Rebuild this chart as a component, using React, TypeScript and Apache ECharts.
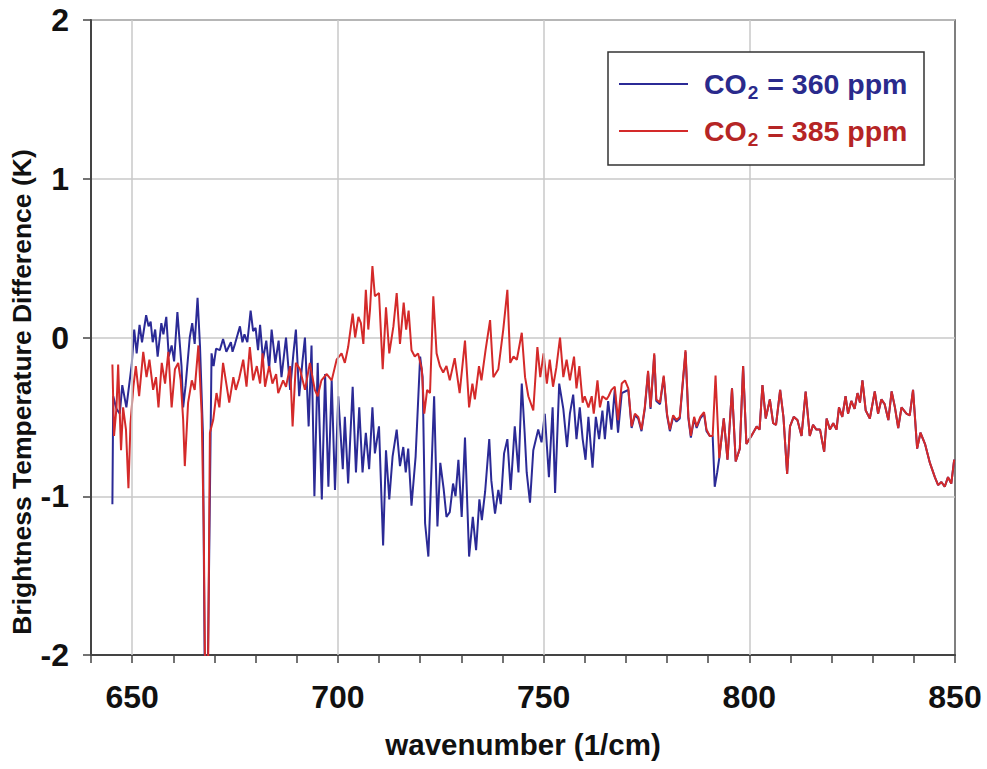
import React, { useEffect, useRef } from "react";
import * as echarts from "echarts";

const xTicksMajor = [650, 700, 750, 800, 850];
const yTicks = [-2, -1, 0, 1, 2];

const wn360 = [645.2, 645.4, 646.2, 647.0, 647.6, 648.6, 649.9, 650.5, 651.1, 651.8, 652.4, 653.4, 654.0, 654.5, 655.0, 655.6, 656.2, 657.1, 657.6, 658.3, 658.9, 659.6, 660.2, 661.0, 662.0, 662.4, 663.0, 664.0, 664.6, 665.2, 665.9, 666.5, 667.2, 667.7, 668.3, 668.9, 669.3, 669.8, 670.4, 671.3, 672.1, 672.9, 674.0, 674.4, 675.0, 676.2, 676.8, 677.3, 678.0, 678.8, 679.4, 680.0, 680.6, 681.1, 681.8, 682.6, 683.3, 683.9, 684.8, 685.6, 686.3, 687.4, 688.4, 689.2, 689.8, 690.6, 691.4, 692.0, 692.9, 693.6, 694.3, 695.1, 696.1, 696.9, 697.7, 698.5, 699.3, 700.1, 701.2, 701.7, 702.5, 703.6, 704.4, 705.2, 706.0, 706.8, 707.6, 708.4, 709.0, 710.0, 711.0, 711.7, 712.5, 713.3, 714.3, 715.1, 715.9, 716.5, 717.1, 717.9, 718.9, 720.0, 720.6, 721.2, 722.0, 722.8, 723.4, 724.2, 724.9, 725.7, 726.4, 727.2, 728.0, 728.6, 729.3, 730.1, 730.9, 731.9, 732.8, 733.6, 734.4, 735.0, 735.8, 736.8, 737.3, 738.2, 739.0, 739.6, 740.4, 741.2, 742.0, 743.0, 743.9, 744.7, 745.4, 745.9, 746.7, 747.5, 748.7, 749.5, 750.3, 751.3, 752.2, 752.8, 753.8, 754.8, 755.7, 756.4, 757.2, 758.0, 758.8, 759.5, 760.2, 760.9, 761.9, 762.7, 763.5, 764.3, 764.9, 765.7, 766.5, 767.3, 768.1, 769.0,
  769.8, 770.6, 771.4, 772.2, 773.0, 773.8, 774.6, 775.4, 776.0, 776.9, 777.4, 778.3, 779.2, 780.0, 780.7, 781.5, 782.3, 783.1, 784.5, 785.2, 785.8, 786.6, 787.2, 788.1, 789.0, 789.6, 790.4, 791.1, 791.6, 792.2, 792.7, 793.8, 794.7, 795.8, 796.7, 797.7, 798.5, 799.3, 800.5, 801.8, 802.5, 803.2, 804.0, 805.0, 805.8, 806.5, 807.5, 808.3, 809.2, 809.9, 810.8, 811.7, 812.7, 813.7, 814.7, 815.5, 816.3, 817.2, 818.2, 818.8, 819.6, 820.4, 821.2, 821.8, 822.6, 823.4, 824.0, 824.8, 825.6, 826.3, 826.9, 827.5, 828.3, 829.3, 830.5, 831.3, 832.1, 832.9, 833.8, 834.6, 835.4, 836.2, 837.0, 838.2, 839.0, 839.8, 840.8, 841.6, 842.7, 843.9, 845.1, 845.9, 846.7, 847.5, 848.3, 849.1, 849.8];

const val360 = [-1.05, -0.37, -0.45, -0.48, -0.30, -0.44, -0.17, 0.05, -0.10, 0.08, -0.03, 0.14, 0.07, 0.10, -0.03, 0.05, -0.12, 0.09, 0.02, 0.13, -0.12, -0.05, -0.15, 0.16, -0.18, -0.44, -0.30, 0.0, 0.09, -0.04, 0.25, -0.06, -0.6, -2.3, -2.3, -1.0, -0.10, -0.18, -0.07, -0.08, -0.01, -0.09, -0.03, -0.09, -0.04, 0.07, -0.03, 0.02, -0.03, 0.17, 0.04, 0.06, -0.08, 0.08, -0.14, -0.02, -0.20, 0.05, -0.16, -0.02, -0.25, 0.0, -0.33, -0.10, 0.05, -0.37, -0.15, 0.0, -0.56, -0.05, -1.00, -0.16, -1.02, -0.23, -0.94, -0.27, -0.96, -0.37, -0.83, -0.50, -0.92, -0.31, -0.85, -0.44, -0.85, -0.60, -0.83, -0.44, -0.73, -0.56, -1.31, -0.71, -1.02, -0.75, -0.58, -0.81, -0.69, -0.85, -0.70, -1.06, -0.75, -0.12, -0.25, -1.17, -1.38, -0.80, -0.37, -1.19, -0.79, -0.95, -1.13, -1.10, -0.92, -1.00, -0.77, -1.13, -0.63, -1.38, -1.13, -1.34, -1.02, -1.15, -0.97, -0.64, -0.90, -1.11, -0.96, -1.05, -0.73, -0.64, -0.96, -0.56, -0.85, -0.29, -0.60, -0.85, -1.04, -0.71, -0.58, -0.66, -0.48, -0.88, -0.44, -0.98, -0.29, -0.45, -0.69, -0.48, -0.36, -0.64, -0.44, -0.64, -0.77, -0.50, -0.82, -0.50, -0.64, -0.46, -0.64, -0.40, -0.58, -0.33, -0.60, -0.35,
  -0.34, -0.33, -0.57, -0.49, -0.51, -0.59, -0.45, -0.22, -0.45, -0.11, -0.40, -0.42, -0.25, -0.49, -0.59, -0.50, -0.53, -0.51, -0.09, -0.51, -0.63, -0.51, -0.57, -0.51, -0.48, -0.59, -0.62, -0.62, -0.94, -0.85, -0.76, -0.51, -0.77, -0.32, -0.78, -0.70, -0.18, -0.67, -0.62, -0.56, -0.58, -0.30, -0.51, -0.39, -0.54, -0.55, -0.33, -0.50, -0.86, -0.56, -0.50, -0.52, -0.62, -0.34, -0.62, -0.55, -0.58, -0.58, -0.72, -0.51, -0.58, -0.54, -0.58, -0.44, -0.50, -0.37, -0.48, -0.40, -0.45, -0.35, -0.41, -0.27, -0.46, -0.51, -0.34, -0.48, -0.39, -0.42, -0.52, -0.34, -0.44, -0.57, -0.44, -0.48, -0.49, -0.33, -0.70, -0.60, -0.67, -0.79, -0.88, -0.93, -0.91, -0.94, -0.88, -0.92, -0.77];

const wn385 = [645.2, 645.6, 646.2, 646.6, 647.3, 647.8, 648.5, 649.1, 649.6, 650.3, 650.9, 651.7, 652.7, 653.5, 654.2, 655.1, 655.8, 656.4, 657.2, 658.0, 658.8, 659.6, 660.4, 661.2, 661.8, 662.4, 662.8, 663.6, 664.5, 665.2, 666.1, 666.9, 667.4, 667.8, 668.4, 668.9, 669.7, 670.5, 671.2, 672.1, 673.0, 673.6, 674.6, 675.2, 676.0, 677.0, 677.8, 678.6, 679.4, 680.3, 681.1, 681.7, 682.3, 683.3, 684.1, 685.0, 685.5, 686.7, 687.4, 688.4, 689.0, 689.8, 690.8, 692.0, 693.2, 694.4, 695.1, 696.0, 697.3, 698.5, 699.7, 700.9, 701.7, 702.5, 703.6, 704.2, 705.0, 705.6, 706.2, 706.8, 707.4, 707.8, 708.4, 709.0, 710.0, 710.9, 711.7, 712.5, 713.5, 714.3, 715.1, 716.0, 716.6, 717.2, 717.9, 718.7, 719.5, 720.4, 721.0, 721.7, 722.4, 723.2, 724.0, 724.8, 725.6, 726.4, 727.2, 728.4, 729.6, 730.9, 731.9, 732.7, 733.3, 734.3, 734.9, 735.9, 737.0, 737.8, 739.0, 740.2, 741.2, 741.9, 742.7, 743.5, 744.7, 745.5, 746.3, 747.5, 748.5, 749.2, 750.0, 750.8, 751.5, 752.3, 753.1, 754.0, 754.8, 755.6, 756.4, 757.4, 758.0, 758.7, 759.5, 760.0, 760.9, 761.7, 762.2, 763.1, 763.7, 764.3, 765.3, 765.8, 766.5, 767.3, 768.1, 769.0,
  769.8, 770.6, 771.4, 772.2, 773.0, 773.8, 774.6, 775.4, 776.0, 776.9, 777.4, 778.3, 779.2, 780.0, 780.7, 781.5, 782.3, 783.1, 784.5, 785.2, 785.8, 786.6, 787.2, 788.1, 789.0, 789.6, 790.4, 791.1, 791.8, 792.7, 793.8, 794.7, 795.8, 796.7, 797.7, 798.5, 799.3, 800.5, 801.8, 802.5, 803.2, 804.0, 805.0, 805.8, 806.5, 807.5, 808.3, 809.2, 809.9, 810.8, 811.7, 812.7, 813.7, 814.7, 815.5, 816.3, 817.2, 818.2, 818.8, 819.6, 820.4, 821.2, 821.8, 822.6, 823.4, 824.0, 824.8, 825.6, 826.3, 826.9, 827.5, 828.3, 829.3, 830.5, 831.3, 832.1, 832.9, 833.8, 834.6, 835.4, 836.2, 837.0, 838.2, 839.0, 839.8, 840.8, 841.6, 842.7, 843.9, 845.1, 845.9, 846.7, 847.5, 848.3, 849.1, 849.8];

const val385 = [-0.17, -0.62, -0.44, -0.17, -0.71, -0.44, -0.58, -0.95, -0.54, -0.31, -0.18, -0.37, -0.09, -0.25, -0.14, -0.33, -0.25, -0.44, -0.16, -0.29, -0.09, -0.44, -0.20, -0.16, -0.27, -0.52, -0.81, -0.41, -0.27, -0.33, -0.05, -0.48, -1.2, -2.3, -2.3, -0.60, -0.52, -0.35, -0.44, -0.16, -0.31, -0.41, -0.25, -0.33, -0.26, -0.14, -0.31, -0.06, -0.27, -0.18, -0.29, -0.10, -0.31, -0.18, -0.29, -0.23, -0.35, -0.27, -0.31, -0.18, -0.56, -0.16, -0.20, -0.33, -0.16, -0.33, -0.37, -0.27, -0.23, -0.27, -0.14, -0.10, -0.16, -0.06, 0.15, 0.0, 0.13, 0.09, -0.04, 0.30, 0.05, 0.17, 0.45, 0.26, 0.28, -0.20, 0.19, -0.10, 0.07, 0.28, -0.04, 0.22, 0.05, 0.17, -0.08, -0.12, -0.10, -0.20, -0.48, -0.33, -0.35, 0.26, -0.10, -0.18, -0.22, -0.18, -0.27, -0.13, -0.35, -0.02, -0.44, -0.29, -0.39, -0.18, -0.27, -0.08, 0.11, -0.25, -0.20, 0.05, 0.30, -0.16, -0.12, -0.14, 0.03, -0.25, -0.37, -0.46, -0.06, -0.25, -0.10, -0.29, -0.14, -0.31, -0.19, 0.0, -0.25, -0.14, -0.27, -0.12, -0.32, -0.18, -0.41, -0.37, -0.44, -0.37, -0.48, -0.27, -0.44, -0.37, -0.39, -0.37, -0.33, -0.31, -0.52, -0.29,
  -0.27, -0.32, -0.56, -0.48, -0.50, -0.58, -0.44, -0.21, -0.44, -0.10, -0.39, -0.41, -0.24, -0.48, -0.58, -0.49, -0.52, -0.50, -0.08, -0.50, -0.62, -0.50, -0.56, -0.50, -0.47, -0.58, -0.62, -0.62, -0.24, -0.76, -0.51, -0.77, -0.32, -0.78, -0.70, -0.18, -0.67, -0.62, -0.56, -0.58, -0.30, -0.51, -0.39, -0.54, -0.55, -0.33, -0.50, -0.86, -0.56, -0.50, -0.52, -0.62, -0.34, -0.62, -0.55, -0.58, -0.58, -0.72, -0.51, -0.58, -0.54, -0.58, -0.44, -0.50, -0.37, -0.48, -0.40, -0.45, -0.35, -0.41, -0.27, -0.46, -0.51, -0.34, -0.48, -0.39, -0.42, -0.52, -0.34, -0.44, -0.57, -0.44, -0.48, -0.49, -0.33, -0.70, -0.60, -0.67, -0.79, -0.88, -0.93, -0.91, -0.94, -0.88, -0.92, -0.77];

const gridWavenumbers = [650, 700, 750, 800];
const seriesNames = ["CO2 = 360 ppm", "CO2 = 385 ppm"];
const legendValues = ["360", "385"];
const xTitle = "wavenumber (1/cm)";
const yTitle = "Brightness Temperature Difference (K)";

const BLUE = "#2b2a96";
const RED = "#d42a2a";
const FONT = "'Liberation Sans', Arial, sans-serif";

export default function App() {
  const ref = useRef<HTMLDivElement>(null);
  useEffect(() => {
    if (!ref.current) return;
    const chart = echarts.init(ref.current, null, { renderer: "svg" });
    const d360 = wn360.map((x, i) => [x, val360[i]]);
    const d385 = wn385.map((x, i) => [x, val385[i]]);
    const legendText = (v: string, k: string) => `{${k}|CO}{${k}s|2}{${k}| = ${v} ppm}`;
    chart.setOption({
      animation: false,
      backgroundColor: "#ffffff",
      grid: { left: 91, top: 20, right: 32, bottom: 114, show: true, borderColor: "#555", borderWidth: 1.5, backgroundColor: "transparent" },
      xAxis: {
        type: "value",
        min: 640,
        max: 850,
        interval: 10,
        name: xTitle,
        nameLocation: "middle",
        nameGap: 74,
        nameTextStyle: { fontSize: 29.5, fontWeight: "bold", color: "#111", fontFamily: FONT },
        axisLine: { show: true, onZero: false, lineStyle: { color: "#444", width: 2 } },
        axisTick: { show: true, length: 8, lineStyle: { color: "#444", width: 1.5 } },
        axisLabel: {
          fontSize: 32, fontWeight: "bold", color: "#111", fontFamily: FONT, margin: 26,
          formatter: (v: number) => (xTicksMajor.includes(v) ? String(v) : ""),
        },
        splitLine: { show: false },
      },
      yAxis: {
        type: "value",
        min: yTicks[0],
        max: yTicks[yTicks.length - 1],
        interval: 1,
        axisLine: { show: true, onZero: false, lineStyle: { color: "#444", width: 2 } },
        axisTick: { show: true, length: 8, lineStyle: { color: "#444", width: 1.5 } },
        axisLabel: { fontSize: 32, fontWeight: "bold", color: "#111", fontFamily: FONT, margin: 22 },
        splitLine: { show: true, lineStyle: { color: "#c8c8c8", width: 1.5 } },
      },
      series: [
        {
          type: "line",
          name: "grid",
          data: [],
          z: 1,
          silent: true,
          markLine: {
            silent: true,
            symbol: "none",
            label: { show: false },
            lineStyle: { color: "#c8c8c8", width: 1.5, type: "solid" },
            data: gridWavenumbers.map((x) => ({ xAxis: x })),
          },
        },
        {
          type: "line",
          name: seriesNames[0],
          data: d360,
          showSymbol: false,
          z: 3,
          lineStyle: { color: BLUE, width: 2 },
          itemStyle: { color: BLUE },
        },
        {
          type: "line",
          name: seriesNames[1],
          data: d385,
          showSymbol: false,
          z: 4,
          lineStyle: { color: RED, width: 2 },
          itemStyle: { color: RED },
        },
      ],
      graphic: [
        {
          type: "text", x: 22, y: 392, rotation: Math.PI / 2,
          style: { text: yTitle, align: "center", verticalAlign: "middle", fontSize: 26.5, fontWeight: "bold", fill: "#111", fontFamily: FONT },
        },
        { type: "rect", z: 10, shape: { x: 608, y: 52, width: 316, height: 113 }, style: { fill: "#fff", stroke: "#333", lineWidth: 1.5 } },
        { type: "line", z: 11, shape: { x1: 619, y1: 84, x2: 688, y2: 84 }, style: { stroke: BLUE, lineWidth: 2 } },
        { type: "line", z: 11, shape: { x1: 619, y1: 131, x2: 688, y2: 131 }, style: { stroke: RED, lineWidth: 2 } },
        {
          type: "text", z: 11, x: 704, y: 84,
          style: {
            text: legendText(legendValues[0], "b"),
            verticalAlign: "middle",
            rich: {
              b: { fontSize: 28.5, fontWeight: "bold", fill: "#2a2a8c", fontFamily: FONT },
              bs: { fontSize: 19, fontWeight: "bold", fill: "#2a2a8c", fontFamily: FONT, padding: [16, 1, 0, 1] },
            },
          },
        },
        {
          type: "text", z: 11, x: 704, y: 131,
          style: {
            text: legendText(legendValues[1], "r"),
            verticalAlign: "middle",
            rich: {
              r: { fontSize: 28.5, fontWeight: "bold", fill: "#b52525", fontFamily: FONT },
              rs: { fontSize: 19, fontWeight: "bold", fill: "#b52525", fontFamily: FONT, padding: [16, 1, 0, 1] },
            },
          },
        },
      ],
    });
    return () => chart.dispose();
  }, []);
  return <div ref={ref} style={{ position: "fixed", left: 0, top: 0, width: 987, height: 769, background: "#fff" }} />;
}
